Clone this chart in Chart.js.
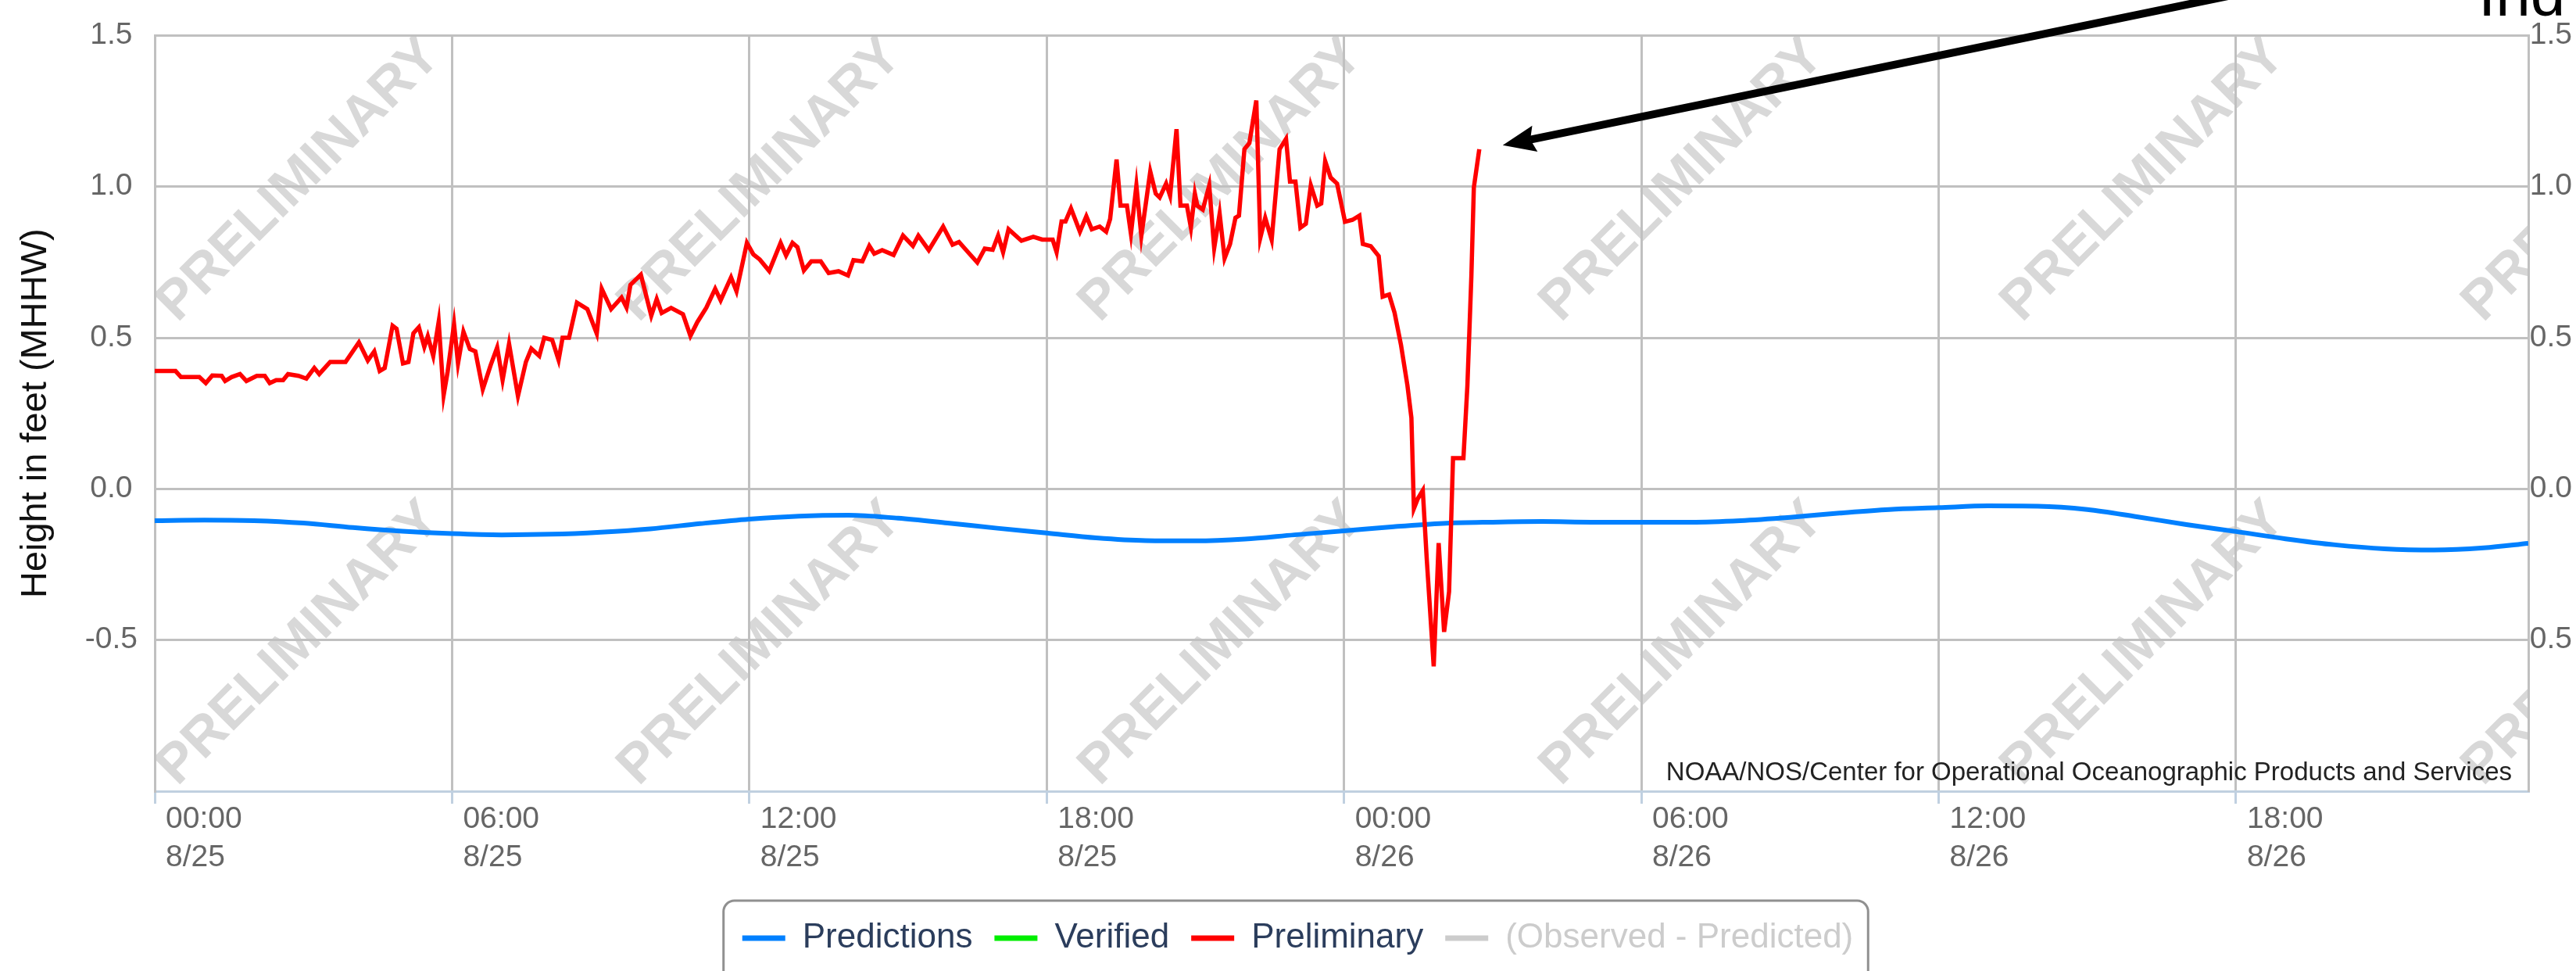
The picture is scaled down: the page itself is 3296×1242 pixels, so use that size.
<!DOCTYPE html>
<html>
<head>
<meta charset="utf-8">
<title>Water level 8/25 - 8/26 (preliminary)</title>
<script src="https://cdn.jsdelivr.net/npm/chart.js@4.4.1/dist/chart.umd.min.js"></script>
<style>
  html, body { margin: 0; padding: 0; background: #fff; }
  #wrap { width: 3296px; height: 1242px; overflow: hidden; }
</style>
</head>
<body>
<div id="wrap"><canvas id="waterLevel" width="3296" height="1242"></canvas></div>
<script>
// hours since 00:00 8/25, height in feet (MHHW)
const predHours = [0, 1, 2, 3, 4, 5, 6, 7, 8, 9, 10, 11, 12, 13, 14, 15, 16, 17, 18, 19, 20, 21, 22, 23,
  24, 25, 26, 27, 28, 29, 30, 31, 32, 33, 34, 35, 36, 37, 38, 39, 40, 41, 42, 43, 44, 45, 46, 47, 47.9];
const predFeet = [-0.105, -0.103, -0.105, -0.113, -0.128, -0.14, -0.148, -0.152, -0.15, -0.143, -0.132, -0.115,
  -0.1, -0.09, -0.087, -0.097, -0.113, -0.13, -0.146, -0.162, -0.171, -0.172, -0.166, -0.152,
  -0.139, -0.125, -0.114, -0.11, -0.108, -0.11, -0.11, -0.11, -0.105, -0.094, -0.08, -0.068,
  -0.062, -0.056, -0.057, -0.068, -0.092, -0.118, -0.141, -0.165, -0.185, -0.198, -0.202, -0.195, -0.18];

const prelimHours = [
  0, 0.42, 0.53, 0.9, 1.03, 1.16, 1.35, 1.42, 1.55, 1.72,
  1.85, 2.06, 2.22, 2.32, 2.45, 2.59, 2.69, 2.9, 3.06, 3.22,
  3.32, 3.54, 3.85, 4.12, 4.3, 4.43, 4.54, 4.64, 4.8, 4.88,
  5.01, 5.12, 5.22, 5.33, 5.44, 5.51, 5.62, 5.73, 5.83, 5.91,
  6.04, 6.12, 6.23, 6.36, 6.47, 6.62, 6.78, 6.91, 7.02, 7.15,
  7.33, 7.49, 7.6, 7.76, 7.86, 8.02, 8.15, 8.23, 8.36, 8.52,
  8.73, 8.92, 9.02, 9.21, 9.42, 9.52, 9.6, 9.81, 10.02, 10.13,
  10.23, 10.42, 10.66, 10.81, 10.95, 11.13, 11.31, 11.42, 11.63, 11.74,
  11.95, 12.08, 12.21, 12.4, 12.63, 12.74, 12.87, 12.97, 13.1, 13.25,
  13.44, 13.6, 13.8, 13.99, 14.1, 14.28, 14.42, 14.52, 14.68, 14.91,
  15.1, 15.3, 15.41, 15.62, 15.91, 16.1, 16.23, 16.44, 16.6, 16.75,
  16.91, 17.02, 17.12, 17.23, 17.49, 17.73, 17.91, 18.12, 18.2, 18.3,
  18.38, 18.49, 18.67, 18.8, 18.91, 19.07, 19.2, 19.28, 19.41, 19.49,
  19.62, 19.7, 19.81, 19.91, 20.09, 20.2, 20.28, 20.41, 20.49, 20.62,
  20.7, 20.83, 20.91, 20.99, 21.04, 21.15, 21.28, 21.38, 21.49, 21.59,
  21.7, 21.81, 21.88, 21.99, 22.09, 22.23, 22.31, 22.41, 22.54, 22.7,
  22.83, 22.91, 23.02, 23.12, 23.23, 23.33, 23.46, 23.54, 23.62, 23.73,
  23.86, 24.02, 24.17, 24.31, 24.38, 24.54, 24.7, 24.78, 24.91, 25.02,
  25.15, 25.28, 25.36, 25.41, 25.49, 25.59, 25.67, 25.81, 25.91, 26.02,
  26.12, 26.2, 26.41, 26.49, 26.57, 26.62, 26.73];
const prelimFeet = [
  0.39, 0.39, 0.37, 0.37, 0.35, 0.375, 0.374, 0.357, 0.37, 0.38,
  0.357, 0.374, 0.374, 0.35, 0.36, 0.36, 0.38, 0.374, 0.365, 0.40,
  0.38, 0.42, 0.42, 0.485, 0.425, 0.455, 0.39, 0.40, 0.54, 0.53,
  0.415, 0.42, 0.515, 0.535, 0.47, 0.505, 0.44, 0.553, 0.31, 0.387,
  0.545, 0.415, 0.52, 0.463, 0.455, 0.33, 0.41, 0.468, 0.36, 0.48,
  0.307, 0.42, 0.464, 0.44, 0.50, 0.493, 0.426, 0.50, 0.50, 0.616,
  0.595, 0.514, 0.662, 0.595, 0.633, 0.60, 0.675, 0.709, 0.573, 0.628,
  0.582, 0.599, 0.578, 0.506, 0.552, 0.599, 0.662, 0.624, 0.70, 0.654,
  0.814, 0.776, 0.759, 0.721, 0.814, 0.772, 0.814, 0.80, 0.723, 0.753,
  0.753, 0.714, 0.72, 0.706, 0.757, 0.753, 0.804, 0.778, 0.79, 0.774,
  0.838, 0.804, 0.838, 0.79, 0.868, 0.808, 0.817, 0.778, 0.749, 0.795,
  0.791, 0.838, 0.783, 0.859, 0.821, 0.834, 0.825, 0.825, 0.783, 0.885,
  0.885, 0.928, 0.851, 0.902, 0.859, 0.868, 0.851, 0.893, 1.09, 0.937,
  0.937, 0.844, 1.004, 0.837, 1.05, 0.977, 0.964, 1.01, 0.97, 1.19,
  0.937, 0.937, 0.864, 0.977, 0.937, 0.924, 1.004, 0.797, 0.91, 0.763,
  0.81, 0.897, 0.904, 1.124, 1.144, 1.285, 0.83, 0.897, 0.824, 1.124,
  1.158, 1.017, 1.017, 0.864, 0.877, 1.004, 0.937, 0.944, 1.084, 1.03,
  1.01, 0.884, 0.89, 0.904, 0.81, 0.803, 0.77, 0.636, 0.643, 0.583,
  0.476, 0.342, 0.235, -0.065, -0.032, -0.005, -0.233, -0.587, -0.179, -0.473,
  -0.34, 0.102, 0.102, 0.342, 0.703, 0.997, 1.124];

const tickHours = [0, 6, 12, 18, 24, 30, 36, 42];
const tickTimes = ['00:00', '06:00', '12:00', '18:00', '00:00', '06:00', '12:00', '18:00'];
const tickDates = ['8/25', '8/25', '8/25', '8/25', '8/26', '8/26', '8/26', '8/26'];

const seriesNames = ['Predictions', 'Verified', 'Preliminary', '(Observed - Predicted)'];
const seriesColors = ['#0080ff', '#00ee00', '#ff0000', '#cccccc'];

const FONT = '"Liberation Sans", Arial, sans-serif';

function toPoints(hours, feet) {
  return hours.map((h, i) => ({ x: h, y: feet[i] }));
}

function yLabel(value) {
  if (Math.abs(value + 1) < 1e-9) return '';
  return value.toFixed(1);
}

// diagonal PRELIMINARY stamps behind the grid
const watermark = {
  id: 'watermark',
  beforeDraw(chart) {
    const { ctx, chartArea: a } = chart;
    ctx.save();
    ctx.beginPath();
    ctx.rect(a.left, a.top, a.right - a.left, a.bottom - a.top);
    ctx.clip();
    ctx.font = 'bold 70px ' + FONT;
    ctx.fillStyle = '#d8d8d8';
    ctx.textAlign = 'center';
    ctx.textBaseline = 'middle';
    for (let r = 0; r < 2; r++) {
      for (let k = 0; k < 6; k++) {
        ctx.save();
        ctx.translate(a.left + 185 + k * 590, a.top + 185 + r * 593);
        ctx.rotate(-Math.PI / 4);
        ctx.fillText('PRELIMINARY', 0, 0);
        ctx.restore();
      }
    }
    ctx.restore();
  }
};

// credits, legend frame, and the annotation arrow
const extras = {
  id: 'extras',
  afterDraw(chart) {
    const { ctx, chartArea: a, scales } = chart;
    ctx.save();
    ctx.font = '33px ' + FONT;
    ctx.fillStyle = '#222';
    ctx.textAlign = 'right';
    ctx.textBaseline = 'alphabetic';
    ctx.fillText('NOAA/NOS/Center for Operational Oceanographic Products and Services', a.right - 21, a.bottom - 14);

    // rounded frame round the legend
    const hb = chart.legend.legendHitBoxes;
    if (hb && hb.length) {
      const last = hb[hb.length - 1];
      const left = hb[0].left - 24;
      const right = last.left + last.width + 19;
      const top = hb[0].top - 26;
      ctx.beginPath();
      ctx.roundRect(left, top, right - left, 200, 14);
      ctx.strokeStyle = '#909090';
      ctx.lineWidth = 3;
      ctx.stroke();
    }

    // arrow pointing at the last preliminary reading
    const n = prelimHours.length - 1;
    const tipX = scales.x.getPixelForValue(prelimHours[n]) + 30;
    const tipY = scales.y.getPixelForValue(prelimFeet[n]) - 5;
    const len = Math.hypot(900, 185);
    const ux = 900 / len, uy = -185 / len;
    const nx = -uy, ny = ux;
    ctx.strokeStyle = '#000';
    ctx.fillStyle = '#000';
    ctx.lineWidth = 10;
    ctx.beginPath();
    ctx.moveTo(tipX + ux * 36, tipY + uy * 36);
    ctx.lineTo(tipX + ux * 1400, tipY + uy * 1400);
    ctx.stroke();
    ctx.beginPath();
    ctx.moveTo(tipX, tipY);
    ctx.lineTo(tipX + ux * 42 + nx * 17, tipY + uy * 42 + ny * 17);
    ctx.lineTo(tipX + ux * 36, tipY + uy * 36);
    ctx.lineTo(tipX + ux * 42 - nx * 17, tipY + uy * 42 - ny * 17);
    ctx.closePath();
    ctx.fill();

    ctx.font = '80px ' + FONT;
    ctx.textAlign = 'left';
    ctx.fillText('Ind', 3171, 20);
    ctx.restore();
  }
};

const ctxWater = document.getElementById('waterLevel').getContext('2d');
new Chart(ctxWater, {
  type: 'line',
  data: {
    datasets: [
      { label: seriesNames[0], data: toPoints(predHours, predFeet), borderColor: seriesColors[0],
        borderWidth: 6, pointRadius: 0, tension: 0.4, cubicInterpolationMode: 'monotone', order: 3 },
      { label: seriesNames[1], data: [], borderColor: seriesColors[1], pointRadius: 0, order: 2 },
      { label: seriesNames[2], data: toPoints(prelimHours, prelimFeet), borderColor: seriesColors[2],
        borderWidth: 5.5, pointRadius: 0, tension: 0, order: 1 },
      { label: seriesNames[3], data: [], borderColor: seriesColors[3], pointRadius: 0, order: 4 }
    ]
  },
  options: {
    responsive: false,
    devicePixelRatio: 1,
    animation: false,
    events: [],
    layout: { padding: { top: 38, bottom: 10, left: 30, right: 5 } },
    scales: {
      x: {
        type: 'linear',
        position: 'bottom',
        min: 0,
        max: 47.9,
        afterBuildTicks: s => { s.ticks = tickHours.map(v => ({ value: v })); },
        afterFit: s => { s.height = 138; },
        ticks: {
          callback: (v, i) => [tickTimes[i], tickDates[i]],
          align: 'start',
          labelOffset: 14,
          padding: -4,
          maxRotation: 0,
          autoSkip: false,
          color: '#666',
          font: { family: FONT, size: 39, lineHeight: 1.25 }
        },
        grid: { color: '#c0c0c0', lineWidth: 3, tickColor: '#c0d0e0', tickLength: 16, tickWidth: 3 },
        border: { color: '#c0d0e0', width: 3 }
      },
      y: {
        position: 'left',
        min: -1,
        max: 1.5,
        afterFit: s => { s.width = 168; },
        ticks: { stepSize: 0.5, callback: yLabel, crossAlign: 'center', padding: 22, color: '#666',
          font: { family: FONT, size: 39 } },
        grid: { color: c => (Math.abs(c.tick.value + 1) < 1e-9 ? 'rgba(0,0,0,0)' : '#c0c0c0'),
          lineWidth: 3, drawTicks: false },
        border: { color: '#c0c0c0', width: 3 },
        title: { display: true, text: 'Height in feet (MHHW)', color: '#111',
          font: { family: FONT, size: 47, lineHeight: 0.7 }, padding: { top: 0, bottom: 0 } }
      },
      y2: {
        position: 'right',
        min: -1,
        max: 1.5,
        afterFit: s => { s.width = 56; },
        ticks: { stepSize: 0.5, callback: yLabel, crossAlign: 'far', color: '#666',
          font: { family: FONT, size: 39 } },
        grid: { display: false, drawTicks: false },
        border: { color: '#c0c0c0', width: 3 }
      }
    },
    plugins: {
      tooltip: { enabled: false },
      legend: {
        position: 'bottom',
        labels: {
          boxWidth: 55,
          boxHeight: 7,
          padding: 28,
          font: { family: FONT, size: 44 },
          generateLabels: chart => chart.data.datasets.map((ds, i) => ({
            text: ds.label,
            fillStyle: ds.borderColor,
            strokeStyle: ds.borderColor,
            lineWidth: 0,
            fontColor: i === 3 ? '#cccccc' : '#2b3d5c',
            hidden: false,
            datasetIndex: i
          }))
        }
      }
    }
  },
  plugins: [watermark, extras]
});
</script>
</body>
</html>
